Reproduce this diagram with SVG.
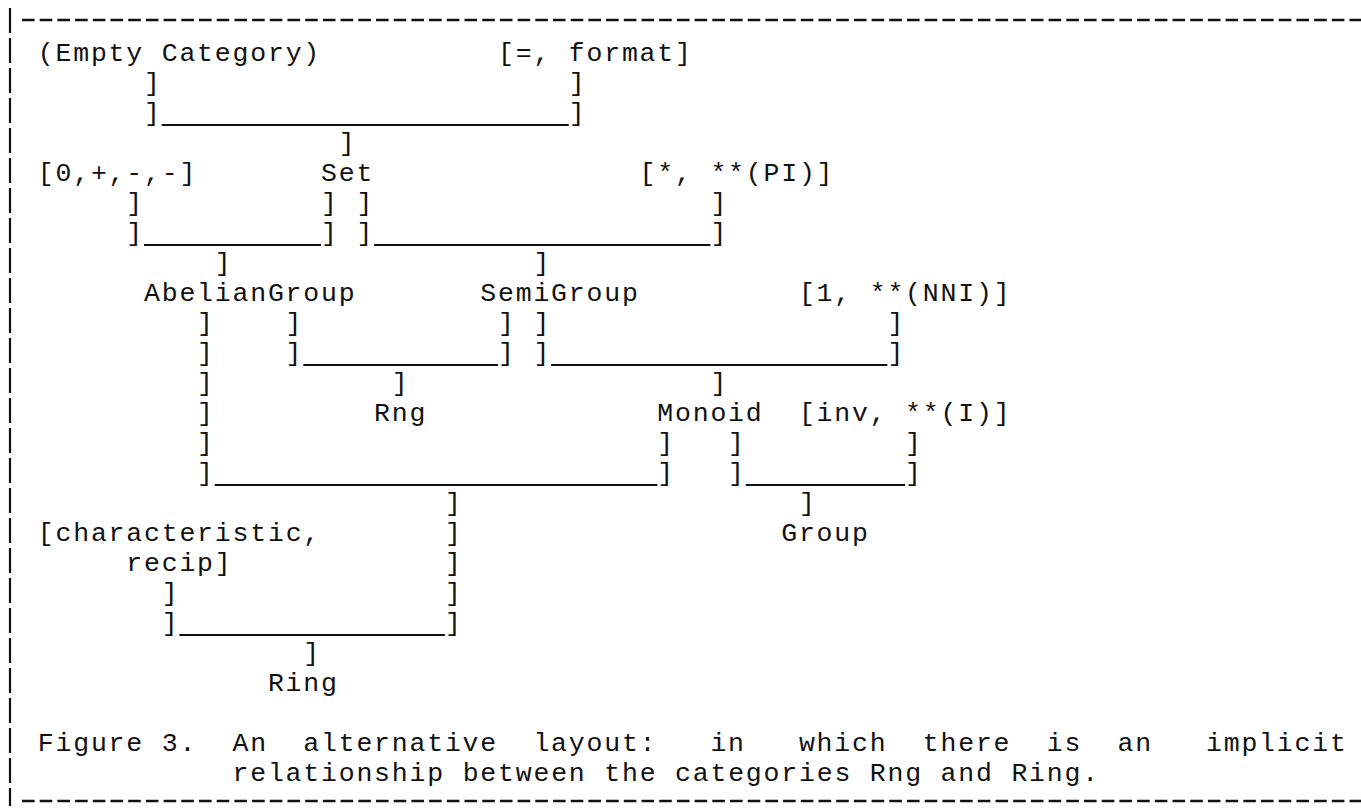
<svg xmlns="http://www.w3.org/2000/svg" width="1361" height="808" viewBox="0 0 1361 808">
  <style>
    text { font-family: "Liberation Mono", "Courier New", monospace; font-size: 26.5px; letter-spacing: 1.8px; fill: #111; white-space: pre; }
    .rule { stroke: #111; stroke-width: 2; fill: none; }
    .frame { stroke: #111; stroke-width: 2.6; fill: none; stroke-dasharray: 12.6 5.1; }
    .side { stroke: #111; stroke-width: 2.2; fill: none; stroke-dasharray: 25 5; }
  </style>
  <rect width="1361" height="808" fill="#fff"/>

  <!-- frame: dashed top and bottom rules, broken bar on the left -->
  <g id="frame">
    <line class="frame" x1="22" y1="20" x2="1361" y2="20"/>
    <line class="frame" x1="22" y1="801" x2="1361" y2="801"/>
    <line class="side" x1="10" y1="8" x2="10" y2="806"/>
  </g>

  <!-- monospace grid: col n at x = 1.5 + 17.7n, row r baseline at 31 + 30r;
       glyphs nudged 0.9px right to sit centred in their 17.7px cells -->
  <g transform="translate(0.9 0)">
    <g id="empty-category"><text x="36.9" y="61">(Empty Category)</text></g>
    <g id="eq-format"><text x="497.1" y="61">[=, format]</text></g>
    <g id="ops-additive"><text x="36.9" y="181">[0,+,-,-]</text></g>
    <g id="set"><text x="320.1" y="181">Set</text></g>
    <g id="ops-times"><text x="638.7" y="181">[*, **(PI)]</text></g>
    <g id="abelian-group"><text x="143.1" y="301">AbelianGroup</text></g>
    <g id="semi-group"><text x="479.4" y="301">SemiGroup</text></g>
    <g id="ops-one"><text x="798" y="301">[1, **(NNI)]</text></g>
    <g id="rng"><text x="373.2" y="421">Rng</text></g>
    <g id="monoid"><text x="656.4" y="421">Monoid</text></g>
    <g id="ops-inv"><text x="798" y="421">[inv, **(I)]</text></g>
    <g id="ops-char"><text x="36.9" y="541">[characteristic,</text><text x="125.4" y="571">recip]</text></g>
    <g id="group"><text x="780.3" y="541">Group</text></g>
    <g id="ring"><text x="267" y="691">Ring</text></g>

    <!-- connectors: bracket columns and the rules that join them -->
    <g id="connectors">
      <!-- Empty Category + [=, format] -> Set -->
      <text x="143.1" y="91">]</text><text x="567.9" y="91">]</text>
      <text x="143.1" y="121">]</text><text x="567.9" y="121">]</text>
      <line class="rule" x1="160.8" y1="125" x2="567.9" y2="125"/>
      <text x="337.8" y="151">]</text>

      <!-- [0,+,-,-] + Set -> AbelianGroup ; Set + [*, **(PI)] -> SemiGroup -->
      <text x="125.4" y="211">]</text><text x="320.1" y="211">]</text><text x="355.5" y="211">]</text><text x="709.5" y="211">]</text>
      <text x="125.4" y="241">]</text><text x="320.1" y="241">]</text><text x="355.5" y="241">]</text><text x="709.5" y="241">]</text>
      <line class="rule" x1="143.1" y1="245" x2="320.1" y2="245"/>
      <line class="rule" x1="373.2" y1="245" x2="709.5" y2="245"/>
      <text x="213.9" y="271">]</text><text x="532.5" y="271">]</text>

      <!-- AbelianGroup + SemiGroup -> Rng ; SemiGroup + [1, **(NNI)] -> Monoid -->
      <text x="284.7" y="331">]</text><text x="497.1" y="331">]</text><text x="532.5" y="331">]</text><text x="886.5" y="331">]</text>
      <text x="284.7" y="361">]</text><text x="497.1" y="361">]</text><text x="532.5" y="361">]</text><text x="886.5" y="361">]</text>
      <line class="rule" x1="302.4" y1="365" x2="497.1" y2="365"/>
      <line class="rule" x1="550.2" y1="365" x2="886.5" y2="365"/>
      <text x="390.9" y="391">]</text><text x="709.5" y="391">]</text>

      <!-- AbelianGroup + Monoid -> Ring ; Monoid + [inv, **(I)] -> Group -->
      <text x="196.2" y="331">]</text><text x="196.2" y="361">]</text><text x="196.2" y="391">]</text>
      <text x="196.2" y="421">]</text><text x="196.2" y="451">]</text><text x="196.2" y="481">]</text>
      <text x="656.4" y="451">]</text><text x="727.2" y="451">]</text><text x="904.2" y="451">]</text>
      <text x="656.4" y="481">]</text><text x="727.2" y="481">]</text><text x="904.2" y="481">]</text>
      <line class="rule" x1="213.9" y1="485" x2="656.4" y2="485"/>
      <line class="rule" x1="744.9" y1="485" x2="904.2" y2="485"/>
      <text x="444" y="511">]</text><text x="798" y="511">]</text>

      <!-- joint + [characteristic, recip] -> Ring -->
      <text x="444" y="541">]</text><text x="444" y="571">]</text><text x="444" y="601">]</text><text x="444" y="631">]</text>
      <text x="160.8" y="601">]</text><text x="160.8" y="631">]</text>
      <line class="rule" x1="178.5" y1="635" x2="444" y2="635"/>
      <text x="302.4" y="661">]</text>
    </g>

    <!-- caption, justified across the figure width -->
    <g id="caption">
      <text x="36.9" y="751">Figure 3.</text>
      <text x="231.6" y="751">An</text>
      <text x="302.4" y="751">alternative</text>
      <text x="532.5" y="751">layout:</text>
      <text x="709.5" y="751">in</text>
      <text x="798" y="751">which</text>
      <text x="921.9" y="751">there</text>
      <text x="1045.8" y="751">is</text>
      <text x="1116.6" y="751">an</text>
      <text x="1205.1" y="751">implicit</text>
      <text x="231.6" y="781">relationship between the categories Rng and Ring.</text>
    </g>
  </g>
</svg>
